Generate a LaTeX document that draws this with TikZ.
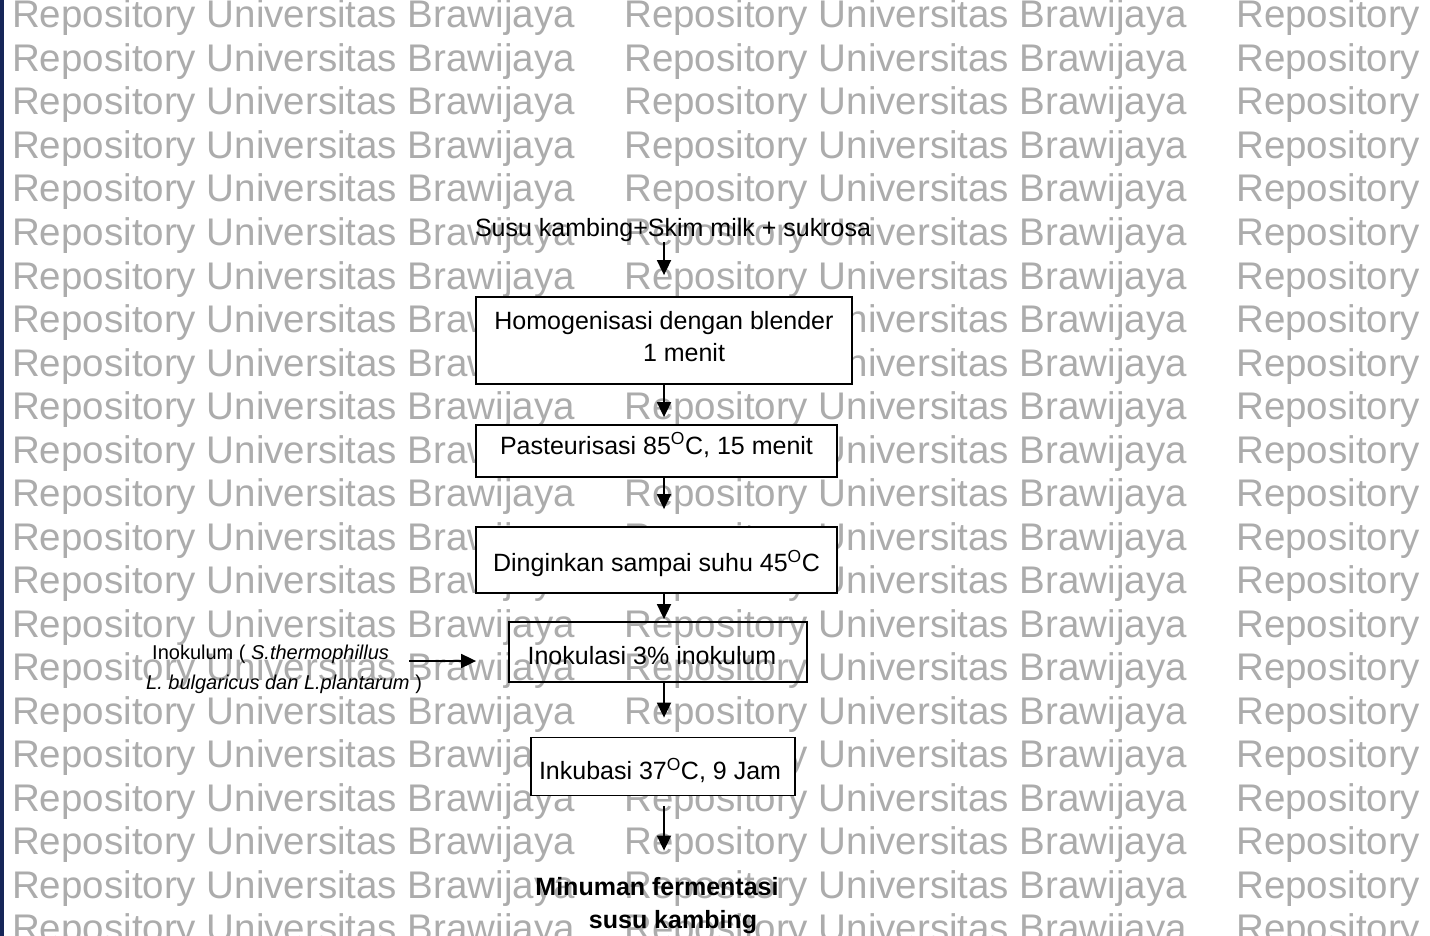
\documentclass[tikz,border=0pt]{standalone}
\usepackage{fontspec}
\setmainfont{Liberation Sans}
\usetikzlibrary{arrows.meta,calc}
\definecolor{wmgray}{RGB}{172,172,172}
\definecolor{edgenavy}{RGB}{22,38,88}
\begin{document}
\begin{tikzpicture}[x=1pt,y=-1pt,
  wm/.style={text=wmgray,font=\fontsize{38.5}{40}\selectfont,anchor=base west,inner sep=0pt},
  stepbox/.style={draw,line width=1.8pt,fill=white,inner sep=0pt},
  boxtext/.style={font=\fontsize{25}{32}\selectfont,align=center,inner sep=0pt},
  arr/.style={line width=1.8pt,-{Triangle[length=15pt,width=14pt]}},
  lbl/.style={font=\fontsize{25}{32}\selectfont,inner sep=0pt}]
\useasboundingbox (0,0) rectangle (1430,936);
\clip (0,0) rectangle (1430,936);
\fill[white] (0,0) rectangle (1430,936);
\foreach \r in {0,...,21} {
  \foreach \c/\x in {0/12,1/624,2/1236} {
    \node[wm] (wm-\r-\c) at (\x,{28+43.5*\r}) {Repository Universitas Brawijaya};
  }
}
\fill[edgenavy] (0,0) rectangle (4,936);
\coordinate (ax) at (664,0);
\node[lbl] (src) at (673,230) {Susu kambing+Skim milk + sukrosa};
% boxes
\node[stepbox,minimum width=376pt,minimum height=87pt] (b1) at (664,340.5) {};
\node[stepbox,minimum width=361pt,minimum height=52pt] (b2) at (656.5,451) {};
\node[stepbox,minimum width=361pt,minimum height=66pt] (b3) at (656.5,560) {};
\node[stepbox,fill=none,minimum width=298pt,minimum height=60pt] (b4) at (658,652) {};
\node[stepbox,minimum width=264pt,minimum height=58pt] (b5) at (663,766.5) {};
% box texts
\node[boxtext] (b1t) at (664,337) {Homogenisasi dengan blender\\\hspace*{40pt}1 menit};
\node[boxtext] (b2t) at (656.5,445) {Pasteurisasi 85\textsuperscript{O}C, 15 menit};
\node[boxtext] (b3t) at (656.5,563) {Dinginkan sampai suhu 45\textsuperscript{O}C};
\node[boxtext] (b4t) at (652,656) {Inokulasi 3\% inokulum};
\node[boxtext] (b5t) at (660,770) {Inkubasi 37\textsuperscript{O}C, 9 Jam};
\node[lbl,font=\fontsize{25}{33}\selectfont\bfseries,align=center] (out) at (657,906) {Minuman fermentasi\\\hspace*{32pt}susu kambing};
\node[inner sep=0pt,font=\fontsize{20}{30}\selectfont,align=left,anchor=west] (inok) at (146,669) {\hspace*{6pt}Inokulum ( \textit{S.thermophillus}\\\textit{L. bulgaricus dan L.plantarum} )};
\draw[arr,shorten >=21pt] (src.south -| ax) -- (b1.north -| ax);
\draw[arr,shorten >=7pt] (b1.south -| ax) -- (b2.north -| ax);
\draw[arr,shorten >=17pt] (b2.south -| ax) -- (b3.north -| ax);
\draw[arr,shorten >=2pt] (b3.south -| ax) -- (b4.north -| ax);
\draw[arr,shorten >=19pt] (b4.south -| ax) -- (b5.north -| ax);
\draw[arr,shorten <=10pt,shorten >=27pt] (b5.south -| ax) -- (out.north -| ax);
\draw[arr,shorten >=32pt] ([xshift=-13pt,yshift=8pt]inok.east) -- ([yshift=8pt]inok.east -| b4.west);
\end{tikzpicture}
\end{document}
